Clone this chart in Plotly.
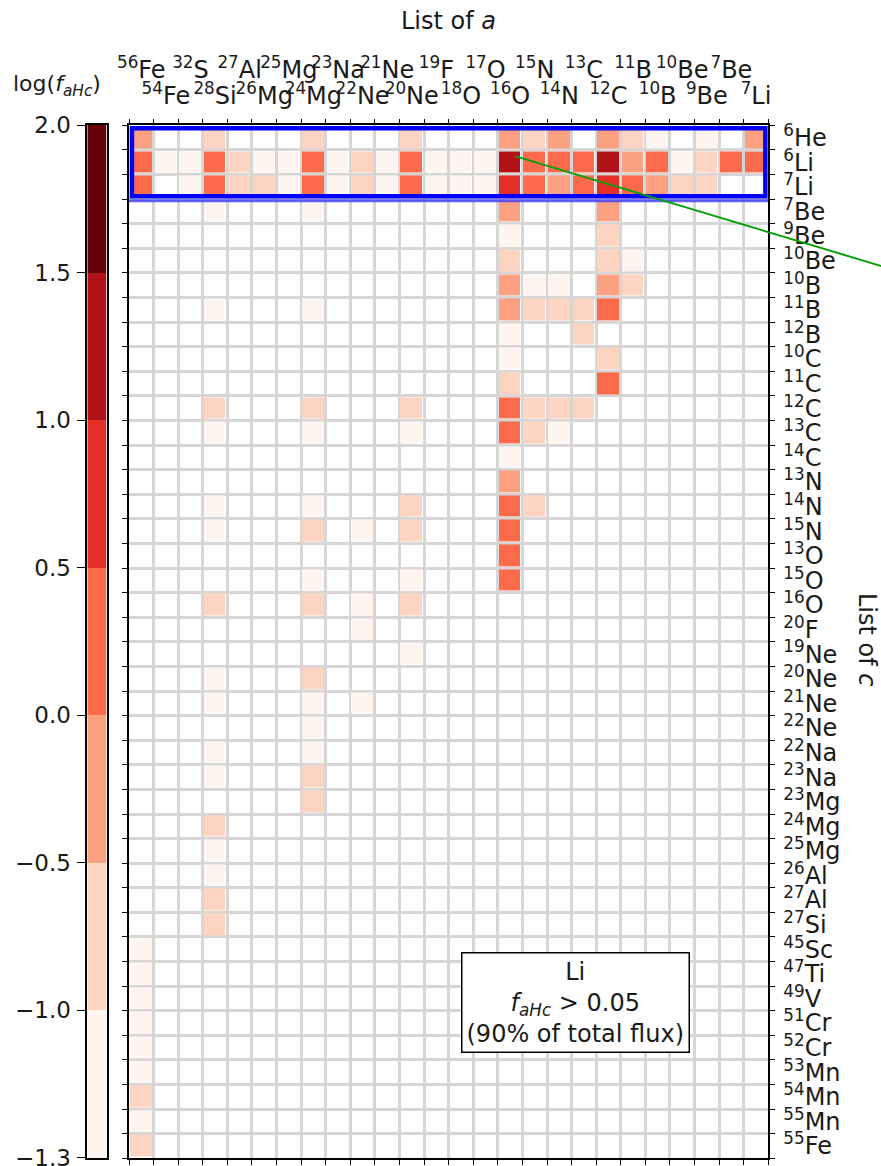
import re
import numpy as np
import plotly.graph_objects as go

# ---------------- data ----------------
list_a = ["56Fe", "54Fe", "32S", "28Si", "27Al", "26Mg", "25Mg", "24Mg", "23Na", "22Ne",
          "21Ne", "20Ne", "19F", "18O", "17O", "16O", "15N", "14N", "13C", "12C",
          "11B", "10B", "10Be", "9Be", "7Be", "7Li"]
list_c = ["6He", "6Li", "7Li", "7Be", "9Be", "10Be", "10B", "11B", "12B", "10C", "11C",
          "12C", "13C", "14C", "13N", "14N", "15N", "13O", "15O", "16O", "20F", "19Ne",
          "20Ne", "21Ne", "22Ne", "22Na", "23Na", "23Mg", "24Mg", "25Mg", "26Al", "27Al",
          "27Si", "45Sc", "47Ti", "49V", "51Cr", "52Cr", "53Mn", "54Mn", "55Mn", "55Fe"]

cbar_levels = [-1.3, -1.0, -0.5, 0.0, 0.5, 1.0, 1.5, 2.0]
cbar_colors = ["#fff5f0", "#fdd4c2", "#fca082", "#fb6a4a", "#e32f27", "#b11218", "#67000d"]

# non-zero cells: (c, a, log f_aHc)
cell_c = (["6He"] * 12 + ["6Li"] * 26 + ["7Li"] * 23 + ["7Be"] * 4 + ["9Be"] * 2 +
          ["10Be"] * 3 + ["10B"] * 5 + ["11B"] * 7 + ["12B"] * 2 + ["10C"] * 2 +
          ["11C"] * 2 + ["12C"] * 7 + ["13C"] * 6 + ["14C"] + ["13N"] + ["14N"] * 5 +
          ["15N"] * 5 + ["13O"] + ["15O"] * 3 + ["16O"] * 4 + ["20F"] + ["19Ne"] +
          ["20Ne"] * 2 + ["21Ne"] * 3 + ["22Ne"] + ["22Na"] * 2 + ["23Na"] * 2 +
          ["23Mg"] + ["24Mg"] + ["25Mg"] + ["26Al"] + ["27Al"] + ["27Si"] +
          ["45Sc", "47Ti", "49V", "51Cr", "52Cr", "53Mn", "54Mn", "55Mn", "55Fe"])
cell_a = (
    ["56Fe", "28Si", "24Mg", "20Ne", "16O", "15N", "14N", "12C", "11B", "10B", "9Be", "7Li"] +
    ["56Fe", "54Fe", "32S", "28Si", "27Al", "26Mg", "25Mg", "24Mg", "23Na", "22Ne", "21Ne",
     "20Ne", "19F", "18O", "17O", "16O", "15N", "14N", "13C", "12C", "11B", "10B", "10Be",
     "9Be", "7Be", "7Li"] +
    ["56Fe", "32S", "28Si", "27Al", "26Mg", "25Mg", "24Mg", "23Na", "22Ne", "21Ne", "20Ne",
     "19F", "18O", "17O", "16O", "15N", "14N", "13C", "12C", "11B", "10B", "10Be", "9Be"] +
    ["28Si", "24Mg", "16O", "12C"] +
    ["16O", "12C"] +
    ["16O", "12C", "11B"] +
    ["16O", "15N", "14N", "12C", "11B"] +
    ["28Si", "24Mg", "16O", "15N", "14N", "13C", "12C"] +
    ["16O", "13C"] +
    ["16O", "12C"] +
    ["16O", "12C"] +
    ["28Si", "24Mg", "20Ne", "16O", "15N", "14N", "13C"] +
    ["28Si", "24Mg", "20Ne", "16O", "15N", "14N"] +
    ["16O"] + ["16O"] +
    ["28Si", "24Mg", "20Ne", "16O", "15N"] +
    ["28Si", "24Mg", "22Ne", "20Ne", "16O"] +
    ["16O"] +
    ["24Mg", "20Ne", "16O"] +
    ["28Si", "24Mg", "22Ne", "20Ne"] +
    ["22Ne"] + ["20Ne"] +
    ["28Si", "24Mg"] +
    ["28Si", "24Mg", "22Ne"] +
    ["24Mg"] +
    ["28Si", "24Mg"] +
    ["28Si", "24Mg"] +
    ["24Mg"] + ["28Si"] + ["28Si"] + ["28Si"] + ["28Si"] + ["28Si"] +
    ["56Fe"] * 9)
cell_logf = (
    [-0.30, -0.80, -0.75, -0.70, -0.20, -0.60, -0.30, -0.15, -0.70, -1.10, -1.15, -0.20] +
    [0.20, -1.10, -1.20, 0.30, -0.80, -1.15, -1.10, 0.35, -1.10, -0.70, -1.20,
     0.25, -1.10, -1.05, -1.10, 1.30, 0.20, 0.15, 0.30, 1.20, -0.30, 0.10, -1.20,
     -0.80, 0.20, 0.30] +
    [0.25, -1.15, 0.30, -0.70, -0.85, -1.10, 0.30, -1.05, -0.80, -1.10, 0.20,
     -1.10, -1.05, -1.05, 0.90, 0.20, -0.20, 0.10, 0.80, 0.05, -0.40, -0.90, -0.70] +
    [-1.20, -1.20, -0.30, -0.35] +
    [-1.10, -0.90] +
    [-0.60, -0.70, -1.15] +
    [-0.30, -1.20, -1.15, -0.20, -0.80] +
    [-1.20, -1.15, -0.20, -0.80, -0.75, -0.70, 0.20] +
    [-1.10, -0.80] +
    [-1.20, -0.80] +
    [-0.70, 0.20] +
    [-0.80, -0.75, -0.80, 0.30, -0.70, -0.80, -0.75] +
    [-1.15, -1.20, -1.10, 0.25, -0.75, -1.10] +
    [-1.15] + [-0.35] +
    [-1.20, -1.15, -0.80, 0.20, -0.80] +
    [-1.10, -0.70, -1.20, -0.75, 0.30] +
    [0.25] +
    [-1.15, -1.20, 0.20] +
    [-0.70, -0.75, -1.15, -0.80] +
    [-1.20] + [-1.20] +
    [-1.15, -0.80] +
    [-1.20, -1.15, -1.20] +
    [-1.20] +
    [-1.15, -1.20] +
    [-1.20, -0.80] +
    [-0.85] + [-0.75] + [-1.15] + [-1.20] + [-0.80] + [-0.70] +
    [-1.20, -1.20, -1.20, -1.20, -1.20, -1.20, -0.80, -1.15, -0.75])

highlight_rows = ["6He", "6Li", "7Li"]
pointer_a, pointer_c = "16O", "6Li"
pointer_slope = 0.30          # drop (px) per px to the right
box_text = "Li<br><i>f</i><sub><i>aHc</i></sub> > 0.05<br>(90% of total flux)"

# ---------------- helpers ----------------
def iso(lbl):
    m = re.match(r"(\d+)(\D+)", lbl)
    return "<sup>%s</sup>%s" % (m.group(1), m.group(2))

na, nc = len(list_a), len(list_c)
nbin = len(cbar_colors)
z = np.full((nc, na), np.nan)
hov = [["" for _ in range(na)] for _ in range(nc)]
for c, a, v in zip(cell_c, cell_a, cell_logf):
    i, j = list_c.index(c), list_a.index(a)
    z[i, j] = np.digitize(v, cbar_levels[1:-1]) + 0.5
    hov[i][j] = "a=%s, c=%s, log f=%.2f" % (a, c, v)

cscale = []
for k, col in enumerate(cbar_colors):
    cscale += [[k / nbin, col], [(k + 1) / nbin, col]]

W, H = 881, 1166
px = lambda x: x / W
py = lambda y: 1 - y / H
FONT = "DejaVu Sans"
FS = 24
TXT = "#1a1a1a"
GRID = "#d6d6d6"

fig = go.Figure()
fig.add_trace(go.Heatmap(
    x=list(range(na)), y=list(range(nc)), z=z, colorscale=cscale, zmin=0, zmax=nbin,
    showscale=False, xgap=3, ygap=3, text=hov, hoverinfo="text"))
fig.add_trace(go.Heatmap(
    x=[0], y=[k + 0.5 for k in range(nbin)], z=[[k + 0.5] for k in range(nbin)],
    colorscale=cscale, zmin=0, zmax=nbin, showscale=False, xaxis="x4", yaxis="y4",
    hoverinfo="skip"))
# empty carriers so that the label-only axes get drawn
for xa, ya in (("x2", "y"), ("x3", "y"), ("x", "y2")):
    fig.add_trace(go.Scatter(x=[None], y=[None], xaxis=xa, yaxis=ya, mode="markers",
                             showlegend=False, hoverinfo="skip"))

xb = [i - 0.5 for i in range(na + 1)]
yb = [i - 0.5 for i in range(nc + 1)]
XL, XR, YT, YB = 129, 768.3, 125.4, 1158.3
xdom = [px(XL), px(XR)]
ydom = [py(YB), py(YT)]
common = dict(showline=True, linecolor="black", linewidth=1.5, zeroline=False,
              ticks="outside", tickcolor="black", tickwidth=1.3, ticklen=5,
              showgrid=True, gridcolor=GRID, gridwidth=2.5, mirror="ticks",
              showticklabels=False, automargin=False)
tickfont = dict(family=FONT, size=FS, color=TXT)
lab = dict(ticks="", showgrid=False, zeroline=False, showline=False, tickangle=0,
           tickfont=tickfont, automargin=False, ticklabeloverflow="allow")

fig.update_layout(
    width=W, height=H, margin=dict(l=0, r=0, t=0, b=0, pad=0, autoexpand=False),
    paper_bgcolor="white", plot_bgcolor="white", showlegend=False,
    xaxis=dict(domain=xdom, range=[-0.5, na - 0.5], tickvals=xb, anchor="y", **common),
    yaxis=dict(domain=ydom, range=[nc - 0.5, -0.5], tickvals=yb, anchor="x", **common),
    xaxis2=dict(overlaying="x", anchor="y", side="top", range=[-0.5, na - 0.5],
                tickvals=list(range(1, na, 2)), ticktext=[iso(l) for l in list_a[1::2]],
                ticklabelstandoff=16, **lab),
    xaxis3=dict(overlaying="x", anchor="y", side="top", range=[-0.5, na - 0.5],
                tickvals=list(range(0, na, 2)), ticktext=[iso(l) for l in list_a[0::2]],
                ticklabelstandoff=42, **lab),
    yaxis2=dict(overlaying="y", anchor="x", side="right", range=[nc - 0.5, -0.5],
                tickvals=list(range(nc)), ticktext=[iso(l) for l in list_c],
                ticklabelstandoff=14, **lab),
    xaxis4=dict(domain=[px(87.3), px(106.7)], anchor="y4", range=[-0.5, 0.5],
                showticklabels=False, ticks="", showgrid=False, zeroline=False,
                showline=True, mirror=True, linecolor="black", linewidth=1.5,
                automargin=False),
    yaxis4=dict(domain=[py(1157.7), py(125)], anchor="x4", range=[0, nbin],
                tickvals=list(range(nbin + 1)),
                ticktext=[("%.1f" % v).replace("-", "\u2212") for v in cbar_levels],
                ticks="outside", ticklen=9, tickwidth=1.3, tickcolor="black",
                side="left", showgrid=False, zeroline=False, showline=True,
                mirror=True, linecolor="black", linewidth=1.5,
                tickfont=dict(family=FONT, size=FS - 1, color=TXT),
                ticklabelstandoff=1, automargin=False, ticklabeloverflow="allow"),
)

# highlight box around selected rows
r0 = list_c.index(highlight_rows[0])
r1 = list_c.index(highlight_rows[-1])
inset = 0.12
fig.add_shape(type="rect", xref="x", yref="y", x0=-0.5 + inset, x1=na - 0.5 - inset,
              y0=r0 - 0.5 + inset, y1=r1 + 0.5 - inset,
              line=dict(color="#0000ff", width=4.5), layer="above")
fig.add_shape(type="line", xref="x", yref="y", x0=-0.5, x1=na - 0.5,
              y0=r1 + 0.5 + 0.06, y1=r1 + 0.5 + 0.06,
              line=dict(color="#3a3aff", width=3), layer="above", opacity=0.8)

# green pointer line from the selected cell out past the right edge of the figure
cw = (XR - XL) / na
ch = (YB - YT) / nc
sx = XL + (list_a.index(pointer_a) + 0.5 + 0.2) * cw
sy = YT + (list_c.index(pointer_c) + 0.5 - 0.25) * ch
ex = W + 20
ey = sy + (ex - sx) * pointer_slope
fig.add_shape(type="line", xref="paper", yref="paper", x0=px(sx), y0=py(sy),
              x1=px(ex), y1=py(ey), line=dict(color="#0a9e0a", width=2), layer="above")

fig.add_annotation(x=(xdom[0] + xdom[1]) / 2, y=py(21), xref="paper", yref="paper",
                   xanchor="center", yanchor="middle", text="List of <i>a</i>",
                   showarrow=False, font=dict(family=FONT, size=FS, color=TXT))
fig.add_annotation(x=px(867), y=py(640), xref="paper", yref="paper",
                   text="List of <i>c</i>", showarrow=False, textangle=90,
                   xanchor="center", yanchor="middle",
                   font=dict(family=FONT, size=FS, color=TXT))
fig.add_annotation(x=px(57), y=py(86), xref="paper", yref="paper",
                   xanchor="center", yanchor="middle",
                   text="log(<i>f</i><sub><i>aHc</i></sub>)", showarrow=False,
                   font=dict(family=FONT, size=22, color=TXT))
fig.add_annotation(x=px(575), y=py(1003), xref="paper", yref="paper",
                   xanchor="center", yanchor="middle",
                   text=box_text, showarrow=False, align="center",
                   bgcolor="white", bordercolor="black", borderwidth=1.5, borderpad=4,
                   font=dict(family=FONT, size=FS, color=TXT))

fig.write_html("out.html")
